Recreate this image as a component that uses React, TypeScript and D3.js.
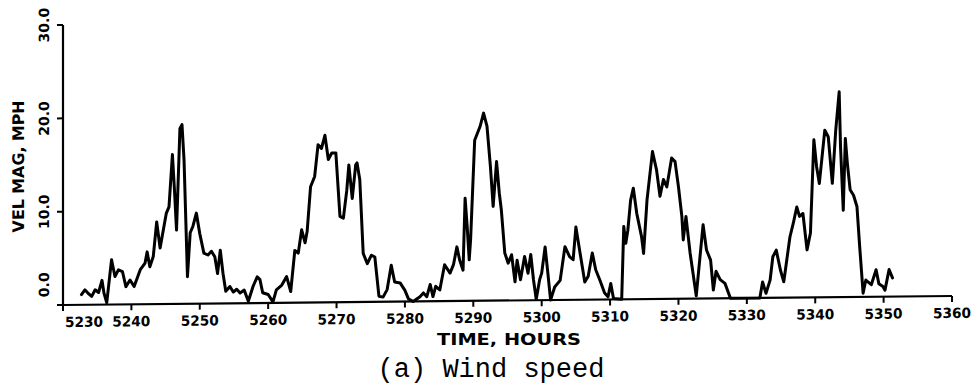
import React from "react";
import * as d3 from "d3";

// Wind speed record (time in hours, speed in mph)
const hours = [
  5232.7, 5233.2, 5233.7, 5234.2, 5234.7, 5235.2, 5235.7, 5236.0, 5236.4, 5237.1,
  5237.6, 5238.1, 5238.7, 5239.2, 5239.8, 5240.4, 5241.3, 5242.0, 5242.3, 5242.7,
  5243.2, 5243.7, 5244.2, 5245.1, 5245.5, 5246.0, 5246.3, 5246.6, 5247.1, 5247.4,
  5247.7, 5248.2, 5248.6, 5249.0, 5249.5, 5250.0, 5250.6, 5251.2, 5251.7, 5252.2,
  5252.6, 5253.0, 5253.4, 5253.8, 5254.4, 5254.9, 5255.4, 5255.9, 5256.5, 5257.1,
  5257.8, 5258.4, 5258.8, 5259.2, 5260.0, 5260.7, 5261.2, 5262.0, 5262.7, 5263.3,
  5263.9, 5264.4, 5264.9, 5265.4, 5265.7, 5266.2, 5266.8, 5267.3, 5267.8, 5268.3,
  5268.8, 5269.3, 5269.9, 5270.5, 5271.0, 5271.5, 5271.8, 5272.3, 5272.8, 5273.0,
  5273.4, 5273.9, 5274.5, 5275.1, 5275.6, 5276.2, 5276.8, 5277.4, 5278.0, 5278.5,
  5279.3, 5280.0, 5280.5, 5281.2, 5282.2, 5282.7, 5283.2, 5283.7, 5284.1, 5284.5,
  5285.1, 5285.8, 5286.6, 5287.1, 5287.6, 5288.0, 5288.5, 5288.8, 5289.1, 5289.4,
  5289.6, 5290.2, 5291.0, 5291.5, 5292.0, 5292.5, 5292.9, 5293.4, 5293.8, 5294.1,
  5294.6, 5295.1, 5295.6, 5296.1, 5296.4, 5296.9, 5297.5, 5298.0, 5298.4, 5298.8,
  5299.2, 5299.7, 5300.0, 5300.5, 5300.9, 5301.3, 5301.9, 5302.7, 5303.4, 5304.1,
  5304.6, 5305.0, 5305.7, 5306.3, 5306.8, 5307.4, 5307.9, 5308.5, 5309.2, 5309.7,
  5310.1, 5310.5, 5311.7, 5312.0, 5312.3, 5312.6, 5313.0, 5313.4, 5313.9, 5314.6,
  5314.9, 5315.4, 5316.2, 5316.8, 5317.3, 5317.8, 5318.3, 5319.0, 5319.5, 5320.0,
  5320.5, 5320.7, 5321.1, 5321.7, 5322.6, 5323.1, 5323.6, 5324.1, 5324.7, 5325.1,
  5325.5, 5326.1, 5326.8, 5327.6, 5331.9, 5332.3, 5332.8, 5333.4, 5333.8, 5334.3,
  5334.9, 5335.4, 5336.3, 5336.8, 5337.3, 5337.7, 5338.2, 5338.8, 5339.3, 5339.8,
  5340.2, 5340.6, 5341.4, 5341.9, 5342.5, 5343.0, 5343.5, 5343.7, 5344.1, 5344.4,
  5344.7, 5345.1, 5345.6, 5346.1, 5346.5, 5347.0, 5347.4, 5348.2, 5348.9, 5349.3,
  5349.9, 5350.2, 5350.8, 5351.3,
];

const speeds = [
  1.1, 1.6, 1.2, 0.9, 1.6, 1.3, 2.6, 1.2, 0.2, 4.8,
  3.0, 3.7, 3.5, 1.9, 2.6, 1.9, 3.7, 4.4, 5.6, 4.0,
  5.1, 8.8, 6.0, 9.7, 10.4, 16.0, 12.2, 7.9, 18.8, 19.2,
  15.4, 2.9, 7.6, 8.3, 9.7, 7.5, 5.4, 5.2, 5.6, 5.0,
  3.2, 5.7, 3.2, 1.3, 1.8, 1.2, 1.5, 1.1, 1.4, 0.2,
  1.8, 2.8, 2.5, 1.1, 0.9, 0.1, 1.4, 1.9, 2.8, 1.2,
  5.6, 5.3, 7.8, 6.4, 7.6, 12.4, 13.5, 16.9, 16.5, 17.9,
  15.3, 16.0, 16.0, 9.2, 9.0, 12.0, 14.7, 11.1, 14.7, 14.9,
  13.1, 5.2, 4.1, 5.0, 4.8, 0.6, 0.5, 1.3, 3.9, 2.1,
  2.0, 1.2, 0.3, 0.0, 0.5, 0.9, 0.5, 1.8, 0.5, 1.6,
  1.2, 3.9, 3.0, 3.9, 5.8, 4.4, 3.3, 11.0, 8.0, 4.4,
  6.5, 17.2, 18.7, 20.1, 18.7, 14.4, 10.1, 14.9, 11.5, 9.7,
  5.1, 4.0, 4.9, 2.0, 4.3, 2.2, 4.7, 2.9, 4.9, 2.2,
  0.1, 2.2, 2.9, 5.7, 2.9, 0.0, 1.4, 2.1, 5.7, 4.6,
  4.3, 7.8, 4.6, 1.9, 2.5, 5.0, 3.2, 2.1, 0.7, 0.3,
  1.7, 0.1, 0.0, 7.8, 6.0, 7.4, 10.6, 11.9, 9.2, 6.7,
  4.9, 10.6, 15.8, 13.8, 11.0, 12.8, 12.0, 15.1, 14.7, 12.0,
  8.8, 6.3, 8.8, 4.9, 0.3, 4.1, 7.9, 5.2, 4.1, 0.9,
  2.9, 2.0, 1.6, 0.0, 0.0, 1.7, 0.5, 1.9, 4.4, 5.1,
  3.0, 1.7, 6.5, 8.0, 9.7, 8.7, 9.0, 5.1, 6.9, 16.9,
  14.0, 12.2, 17.9, 17.2, 12.2, 17.9, 22.0, 16.1, 9.3, 17.0,
  14.3, 11.5, 10.9, 9.7, 5.4, 0.4, 1.8, 1.3, 2.9, 1.4,
  1.1, 0.7, 2.9, 2.0,
];

const xTickValues = [5230, 5240, 5250, 5260, 5270, 5280, 5290, 5300, 5310, 5320, 5330, 5340, 5350, 5360];
const yTickValues = [0, 10, 20, 30];

const W = 973;
const H = 385;
const left = 63;
const right = 952;
const top = 25;
const bottom = 305;

// The plotted frame leans slightly: the time axis rises toward the right.
const tilt = (-Math.atan(9 / (right - left)) * 180) / Math.PI;

const plotFont = "'DejaVu Sans', sans-serif";

export default function App() {
  const x = d3.scaleLinear().domain([5230, 5360]).range([left, right]);
  const y = d3.scaleLinear().domain([0, 30]).range([bottom, top]);

  const line = d3
    .line<number>()
    .x((_, i) => x(hours[i]))
    .y((d) => y(d));

  const path = line(speeds) || "";

  return (
    <svg
      width={W}
      height={H}
      viewBox={`0 0 ${W} ${H}`}
      style={{ position: "absolute", left: 0, top: 0, background: "#fff" }}
    >
      <rect x={0} y={0} width={W} height={H} fill="#fff" />
      <g transform={`translate(${left},0) skewY(${tilt}) translate(${-left},0)`}>
        {/* axes */}
        <line x1={left} x2={left} y1={top} y2={bottom} stroke="#000" strokeWidth={2.2} />
        <line x1={left} x2={right} y1={bottom} y2={bottom} stroke="#000" strokeWidth={2.2} />

        {/* x ticks and labels */}
        {xTickValues.map((t, i) => (
          <g key={t}>
            <line x1={x(t)} x2={x(t)} y1={bottom} y2={bottom + 6} stroke="#000" strokeWidth={2} />
            <text
              x={i === 0 ? x(t) + 2 : x(t)}
              y={bottom + 22}
              textAnchor={i === 0 ? "start" : "middle"}
              fontFamily={plotFont}
              fontWeight="bold"
              fontSize={14}
              textLength={38}
              lengthAdjust="spacingAndGlyphs"
              fill="#000"
            >
              {t}
            </text>
          </g>
        ))}

        {/* y ticks and labels */}
        {yTickValues.map((v, i) => {
          const ty = i === 0 ? y(v) - 8 : y(v);
          return (
            <g key={v}>
              <line x1={left - 6} x2={left} y1={y(v)} y2={y(v)} stroke="#000" strokeWidth={2} />
              <text
                transform={`translate(49,${ty}) rotate(-90)`}
                textAnchor={i === 0 ? "start" : "middle"}
                fontFamily={plotFont}
                fontWeight="bold"
                fontSize={14}
                fill="#000"
              >
                {v.toFixed(1)}
              </text>
            </g>
          );
        })}

        <text
          transform="translate(24,166) rotate(-90)"
          textAnchor="middle"
          fontFamily={plotFont}
          fontWeight="bold"
          fontSize={16}
          textLength={132}
          lengthAdjust="spacingAndGlyphs"
          fill="#000"
        >
          VEL MAG, MPH
        </text>

        {/* wind speed trace */}
        <path
          d={path}
          fill="none"
          stroke="#000"
          strokeWidth={3}
          strokeLinejoin="round"
          strokeLinecap="round"
        />
      </g>

      <text
        x={509}
        y={345}
        textAnchor="middle"
        fontFamily={plotFont}
        fontWeight="bold"
        fontSize={16}
        textLength={144}
        lengthAdjust="spacingAndGlyphs"
        fill="#000"
      >
        TIME, HOURS
      </text>

      <text
        x={491}
        y={377}
        textAnchor="middle"
        fontFamily="'Liberation Mono', 'DejaVu Sans Mono', monospace"
        fontSize={27}
        fill="#000"
      >
        (a) Wind speed
      </text>
    </svg>
  );
}
